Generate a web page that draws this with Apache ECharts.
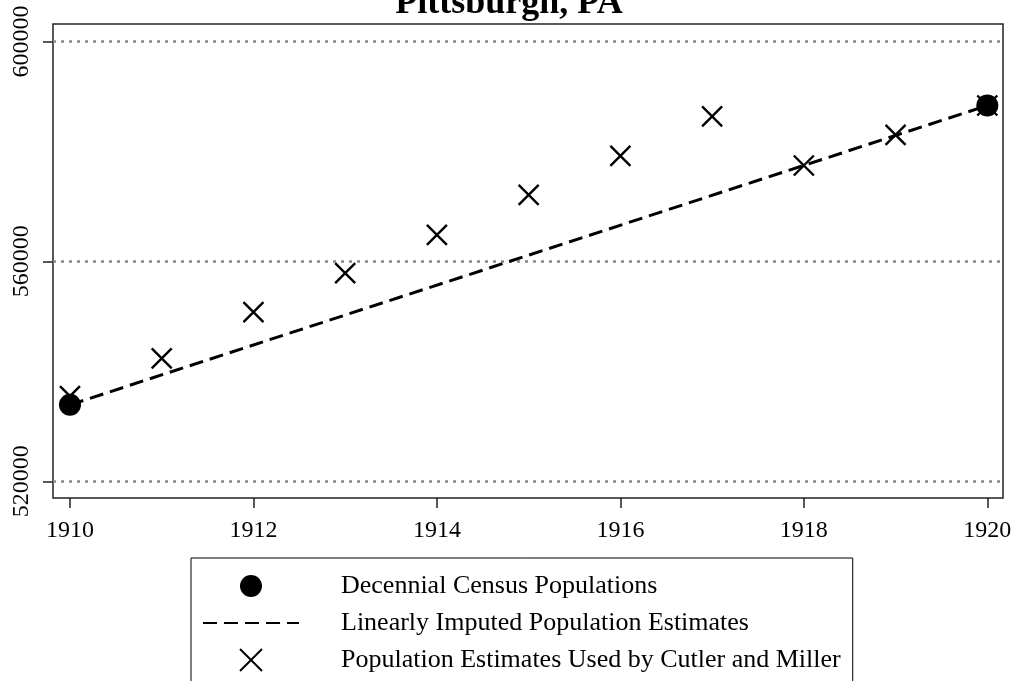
<!DOCTYPE html>
<html>
<head>
<meta charset="utf-8">
<script src="https://cdn.jsdelivr.net/npm/echarts@6/dist/echarts.min.js"></script>
<style>
  html, body { margin: 0; padding: 0; background: #fff; }
  #main { width: 1018px; height: 681px; }
</style>
</head>
<body>
<div id="main"></div>
<script>
// 年份
var years = [1910, 1911, 1912, 1913, 1914, 1915, 1916, 1917, 1918, 1919, 1920];
// Cutler & Miller 估计值
var cutlerMiller = [535500, 542350, 550780, 557850, 564810, 572100, 579200, 586360, 577430, 583020, 588343];
// 十年普查
var censusYears = [1910, 1920];
var censusPop = [533905, 588343];
// 刻度
var xTicks = [1910, 1912, 1914, 1916, 1918, 1920];
var yTicks = [520000, 560000, 600000];

var serif = 'Liberation Serif';
var xPath = 'path://M0,0L10,10M10,0L0,10';
var names = ['Decennial Census Populations', 'Linearly Imputed Population Estimates',
    'Population Estimates Used by Cutler and Miller'];

function plain(v) {
    return String(v);
}

var chart = echarts.init(document.getElementById('main'));
var option = {
    animation: false,
    title: {
        text: 'Pittsburgh, PA',
        left: 'center',
        top: -14,
        padding: 0,
        textStyle: { fontFamily: serif, fontWeight: 'bold', fontSize: 36, color: '#000' }
    },
    grid: {
        left: 53, right: 15, top: 24, bottom: 183,
        show: true, borderColor: '#222', borderWidth: 1.5
    },
    legend: {
        orient: 'vertical',
        left: 191,
        top: 558,
        height: 200,
        padding: [15, 12, 15, 11],
        itemGap: 11,
        itemWidth: 96,
        itemHeight: 22,
        borderColor: '#000',
        borderWidth: 1,
        selectedMode: false,
        data: [
            { name: names[0], icon: 'circle' },
            { name: names[1], itemStyle: { color: 'transparent', borderWidth: 0 } },
            { name: names[2], icon: xPath }
        ],
        textStyle: {
            fontFamily: serif, fontSize: 26, color: '#000',
            padding: [0, 0, 0, 37]
        }
    },
    xAxis: {
        type: 'value',
        min: 1909.815,
        max: 1920.171,
        axisLine: { show: false },
        axisTick: { show: true, length: 10, lineStyle: { color: '#222', width: 1.5 }, customValues: xTicks },
        axisLabel: { customValues: xTicks, formatter: plain, margin: 21, fontFamily: serif, fontSize: 24, color: '#000' },
        splitLine: { show: false }
    },
    yAxis: {
        type: 'value',
        min: 516960,
        max: 603170,
        axisLine: { show: false },
        axisTick: { show: true, length: 10, lineStyle: { color: '#222', width: 1.5 }, customValues: yTicks },
        axisLabel: { customValues: yTicks, formatter: plain, rotate: 90, margin: 19, fontFamily: serif, fontSize: 24, color: '#000' },
        splitLine: { show: true, lineStyle: { color: '#888', width: 2.5, type: [3, 5] } }
    },
    series: [
        {
            name: names[2],
            type: 'scatter',
            z: 2,
            symbol: xPath,
            symbolSize: 20,
            symbolKeepAspect: true,
            itemStyle: { color: '#000', borderColor: '#000', borderWidth: 2.4, opacity: 1 },
            data: years.map(function (y, i) { return [y, cutlerMiller[i]]; })
        },
        {
            name: names[1],
            type: 'line',
            z: 3,
            symbol: 'none',
            lineStyle: { color: '#000', width: 3, type: [14, 7] },
            itemStyle: { color: '#000' },
            data: censusYears.map(function (y, i) { return [y, censusPop[i]]; })
        },
        {
            name: names[0],
            type: 'scatter',
            z: 4,
            symbol: 'circle',
            symbolSize: 22,
            itemStyle: { color: '#000', opacity: 1 },
            data: censusYears.map(function (y, i) { return [y, censusPop[i]]; })
        }
    ]
};
chart.setOption(option);
</script>
</body>
</html>
